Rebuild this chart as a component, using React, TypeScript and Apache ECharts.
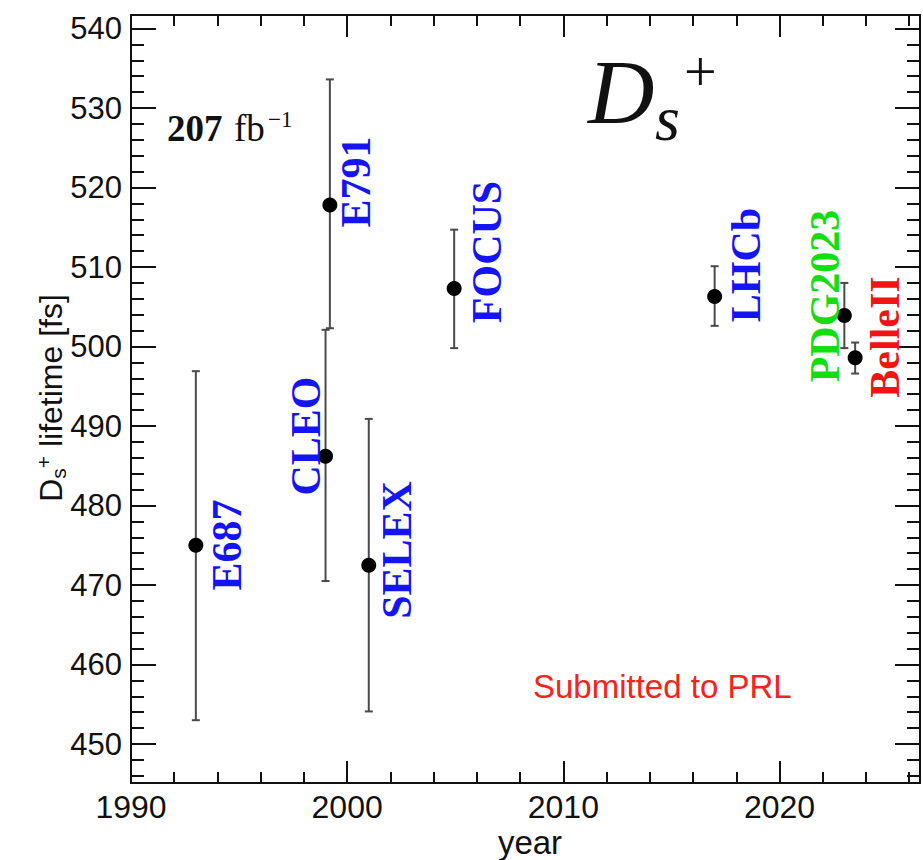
import React, { useEffect, useRef } from 'react';
import * as echarts from 'echarts';

// ---- data ----
const experiments = ['E687', 'CLEO', 'E791', 'SELEX', 'FOCUS', 'LHCb', 'PDG2023', 'BelleII'];
const years = [1993, 1999, 1999.2, 2001, 2004.95, 2017, 2023, 2023.5];
const lifetimes = [475.0, 486.2, 517.8, 472.5, 507.3, 506.3, 503.9, 498.6];
const errLow = [453.0, 470.5, 502.3, 454.1, 499.8, 502.6, 499.8, 496.6];
const errHigh = [496.9, 502.1, 533.6, 490.9, 514.7, 510.1, 508.0, 500.5];
const xRange = [1990, 2026.5];
const yRange = [445.1, 541.7];

// ---- layout (pixel placement of annotations) ----
const labelLayout: Record<string, { x: number; y: number; color: string }> = {
  E687: { x: 227, y: 545, color: '#1414f5' },
  CLEO: { x: 306, y: 436, color: '#1414f5' },
  E791: { x: 356, y: 182, color: '#1414f5' },
  SELEX: { x: 397, y: 550, color: '#1414f5' },
  FOCUS: { x: 487, y: 252, color: '#1414f5' },
  LHCb: { x: 746, y: 265, color: '#1414f5' },
  PDG2023: { x: 825, y: 296, color: '#14dd14' },
  BelleII: { x: 885, y: 337, color: '#f01414' },
};

const INK = '#111';

function txt(text: string, x: number, y: number, font: string, fill: string, opts: any = {}) {
  const align = opts.align || 'left';
  const valign = opts.valign || 'middle';
  return {
    type: 'text',
    x,
    y,
    rotation: opts.rotation || 0,
    z: 20,
    silent: true,
    style: {
      text,
      font,
      fill,
      align,
      verticalAlign: valign,
      textAlign: align,
      textVerticalAlign: valign,
      ...(opts.style || {}),
    },
  };
}

const isTen = (v: number) => Math.abs(v / 10 - Math.round(v / 10)) < 1e-6;

export default function App() {
  const ref = useRef<HTMLDivElement>(null);
  useEffect(() => {
    document.body.style.margin = '0';
    const chart = echarts.init(ref.current!, null, { renderer: 'svg' });

    const axisLine = { show: true, lineStyle: { color: INK, width: 2 } };
    const xTick = { show: true, inside: true, length: 22, lineStyle: { color: INK, width: 2 } };
    const xMinor = { show: true, splitNumber: 5, length: 11, lineStyle: { color: INK, width: 2 } };
    const yTick = { show: true, inside: true, length: 25, lineStyle: { color: INK, width: 2 } };
    const yMinor = { show: true, splitNumber: 5, length: 13, lineStyle: { color: INK, width: 2 } };

    const xBase = {
      type: 'value',
      min: xRange[0],
      max: xRange[1],
      minInterval: 10,
      maxInterval: 10,
      splitNumber: 4,
      axisLine,
      axisTick: xTick,
      minorTick: xMinor,
      splitLine: { show: false },
      minorSplitLine: { show: false },
    };
    const yBase = {
      type: 'value',
      min: yRange[0],
      max: yRange[1],
      minInterval: 10,
      maxInterval: 10,
      splitNumber: 10,
      axisLine,
      axisTick: yTick,
      minorTick: yMinor,
      splitLine: { show: false },
      minorSplitLine: { show: false },
    };

    const option: any = {
      animation: false,
      backgroundColor: '#fff',
      grid: { left: 131, top: 15, width: 799, height: 768, containLabel: false },
      xAxis: [
        {
          ...xBase,
          position: 'bottom',
          axisLabel: {
            show: true,
            margin: 9,
            color: INK,
            fontFamily: 'Liberation Sans',
            fontSize: 32,
            lineHeight: 30,
            formatter: (v: number) => (isTen(v) ? String(Math.round(v)) : ''),
          },
        },
        { ...xBase, position: 'top', axisLabel: { show: false } },
      ],
      yAxis: [
        {
          ...yBase,
          position: 'left',
          axisLabel: {
            show: true,
            margin: 9,
            color: INK,
            fontFamily: 'Liberation Sans',
            fontSize: 31,
            formatter: (v: number) => (isTen(v) ? String(Math.round(v)) : ''),
          },
        },
        { ...yBase, position: 'right', axisLabel: { show: false } },
      ],
      series: [
        {
          type: 'custom',
          xAxisIndex: 0,
          yAxisIndex: 0,
          z: 2,
          silent: true,
          data: years.map((yr, i) => [yr, errLow[i], errHigh[i]]),
          encode: { x: 0, y: [1, 2] },
          renderItem: (_params: any, api: any) => {
            const x = api.value(0);
            const lo = api.coord([x, api.value(1)]);
            const hi = api.coord([x, api.value(2)]);
            const w = 4;
            const style = { stroke: '#4a4a4a', lineWidth: 2 };
            return {
              type: 'group',
              children: [
                { type: 'line', shape: { x1: lo[0], y1: lo[1], x2: hi[0], y2: hi[1] }, style },
                { type: 'line', shape: { x1: lo[0] - w, y1: lo[1], x2: lo[0] + w, y2: lo[1] }, style },
                { type: 'line', shape: { x1: hi[0] - w, y1: hi[1], x2: hi[0] + w, y2: hi[1] }, style },
              ],
            };
          },
        },
        {
          type: 'scatter',
          name: 'lifetime',
          xAxisIndex: 0,
          yAxisIndex: 0,
          z: 3,
          symbol: 'circle',
          symbolSize: 15,
          itemStyle: { color: '#000', opacity: 1 },
          data: years.map((yr, i) => [yr, lifetimes[i]]),
        },
      ],
      graphic: [
        ...experiments.map((name) => {
          const l = labelLayout[name];
          return txt(name, l.x, l.y, 'bold 42px "Liberation Serif"', l.color, {
            rotation: Math.PI / 2,
            align: 'center',
            valign: 'middle',
          });
        }),
        // luminosity
        txt('207', 167, 128.5, 'bold 37px "Liberation Serif"', INK),
        txt('fb', 234, 128.5, '37px "Liberation Serif"', INK),
        txt('\u22121', 268, 119, '23px "Liberation Serif"', INK),
        // D_s^+
        txt('D', 588, 92, 'italic 92px "Liberation Serif"', INK),
        txt('s', 655, 118.5, 'italic 64px "Liberation Serif"', INK),
        txt('+', 684, 71, '58px "Liberation Serif"', INK),
        // note
        txt('Submitted to PRL', 533, 686, '33px "Liberation Sans"', '#f5231b'),
        // axis titles
        txt('year', 530, 842, '33px "Liberation Sans"', INK, { align: 'center', style: { lineHeight: 30 } }),
        {
          type: 'text',
          x: 51,
          y: 398,
          rotation: Math.PI / 2,
          z: 20,
          silent: true,
          style: {
            text: '{m|D}{sub|s}{sup|+}{m| lifetime [fs]}',
            align: 'center',
            verticalAlign: 'middle',
            textAlign: 'center',
            textVerticalAlign: 'middle',
            fill: INK,
            rich: {
              m: { fontFamily: 'Liberation Sans', fontSize: 32, lineHeight: 36, fill: INK },
              sub: { fontFamily: 'Liberation Sans', fontSize: 21, lineHeight: 18, verticalAlign: 'bottom', fill: INK },
              sup: { fontFamily: 'Liberation Sans', fontSize: 21, lineHeight: 18, verticalAlign: 'top', fill: INK },
            },
          },
        },
      ],
    };
    chart.setOption(option);
    return () => chart.dispose();
  }, []);
  return <div ref={ref} style={{ width: 923, height: 860 }} />;
}
